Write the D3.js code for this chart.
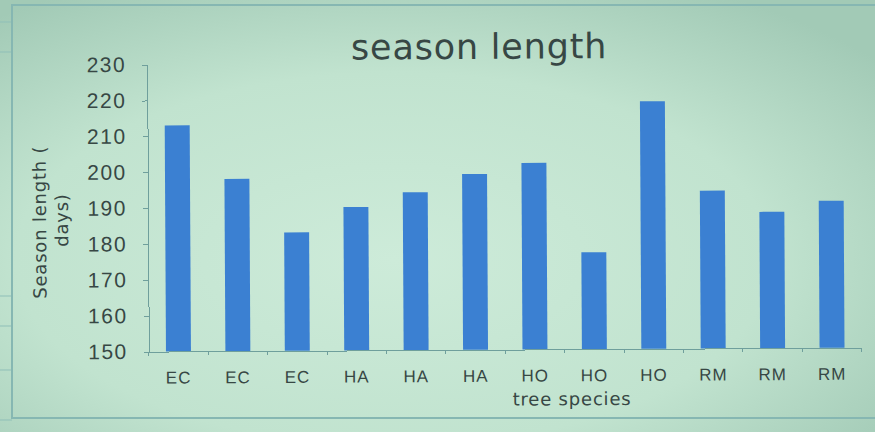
<!DOCTYPE html>
<meta charset="utf-8">
<style>
body {
  margin: 0;
  background: #a9d0bf;
  font-family: "DejaVu Sans", sans-serif;
}
.axis path,
.axis line {
  fill: none;
  stroke: #6f9f9c;
  shape-rendering: crispEdges;
}
.axis text {
  fill: #374744;
}
</style>
<body>
<script src="https://d3js.org/d3.v7.min.js"></script>
<script>

// tree species on the x axis (repeated names, so the band scale uses the index)
const species = ["EC", "EC", "EC", "HA", "HA", "HA", "HO", "HO", "HO", "RM", "RM", "RM"];
// season length in days
const seasonLength = [213, 198, 183, 190, 194, 199, 202, 177, 219, 194, 188, 191];
const yTicks = [150, 160, 170, 180, 190, 200, 210, 220, 230];

var W = 875, H = 432;
var margin = {top: 63, right: 14, bottom: 82, left: 148},
    width = W - margin.left - margin.right,
    height = H - margin.top - margin.bottom;

var svg = d3.select("body").append("svg")
    .attr("width", W)
    .attr("height", H);

// photo-like background: lit middle, darker corners
var defs = svg.append("defs");
var grad = defs.append("radialGradient")
    .attr("id", "glow")
    .attr("cx", "45%").attr("cy", "60%").attr("r", "72%");
grad.append("stop").attr("offset", "0%").attr("stop-color", "#cdebd9");
grad.append("stop").attr("offset", "60%").attr("stop-color", "#c1e3cf");
grad.append("stop").attr("offset", "100%").attr("stop-color", "#a2cab6");

svg.append("rect")
    .attr("width", W).attr("height", H)
    .attr("fill", "url(#glow)");

// faint spreadsheet gridlines in the left margin
svg.selectAll(".grid")
    .data([22, 52, 296, 326, 370, 420])
  .enter().append("line")
    .attr("x1", 0).attr("x2", 12)
    .attr("y1", d => d).attr("y2", d => d)
    .attr("stroke", "#8fbfb8")
    .attr("stroke-width", 1);

// chart frame
svg.append("rect")
    .attr("x", 12).attr("y", 5)
    .attr("width", W + 20).attr("height", 413)
    .attr("fill", "none")
    .attr("stroke", "#86b7b2")
    .attr("stroke-width", 2);

var chart = svg.append("g")
    .attr("transform", "rotate(-0.32," + W / 2 + "," + H / 2 + ")");

var g = chart.append("g")
    .attr("transform", "translate(" + margin.left + "," + margin.top + ")");

var x = d3.scaleBand()
    .domain(d3.range(species.length))
    .range([0, width])
    .paddingInner(0.58)
    .paddingOuter(0.29);

var y = d3.scaleLinear()
    .domain([150, 230])
    .range([height, 0]);

var xAxis = d3.axisBottom(x)
    .tickFormat(i => species[i])
    .tickSize(0)
    .tickPadding(20);

var yAxis = d3.axisLeft(y)
    .tickValues(yTicks)
    .tickSize(5)
    .tickPadding(16);

g.selectAll(".bar")
    .data(seasonLength)
  .enter().append("rect")
    .attr("class", "bar")
    .attr("x", (d, i) => x(i))
    .attr("width", x.bandwidth())
    .attr("y", d => y(d))
    .attr("height", d => height - y(d))
    .attr("fill", "#3b80d2");

var gx = g.append("g")
    .attr("class", "x axis")
    .attr("transform", "translate(0," + height + ")")
    .call(xAxis);
gx.selectAll("text")
    .style("font-size", "17px")
    .style("letter-spacing", "1px");

// small ticks between the categories
var step = x.step();
gx.selectAll(".sep")
    .data(d3.range(species.length + 1))
  .enter().append("line")
    .attr("class", "sep")
    .attr("x1", i => i * step).attr("x2", i => i * step)
    .attr("y1", 0).attr("y2", 4);

var gy = g.append("g")
    .attr("class", "y axis")
    .call(yAxis);
gy.selectAll("text")
    .style("font-size", "21px")
    .style("letter-spacing", "1.5px");

g.append("text")
    .attr("x", 423)
    .attr("y", height + 56)
    .attr("text-anchor", "middle")
    .style("font-size", "18px")
    .style("letter-spacing", "0.8px")
    .style("fill", "#374744")
    .text("tree species");

// y axis title on two lines
var ylab = g.append("text")
    .attr("transform", "rotate(-90)")
    .attr("text-anchor", "middle")
    .style("font-size", "18px")
    .style("letter-spacing", "0.8px")
    .style("fill", "#374744");
ylab.append("tspan")
    .attr("x", -(220 - margin.top))
    .attr("y", -102)
    .text("Season length (");
ylab.append("tspan")
    .attr("x", -(218 - margin.top))
    .attr("y", -80)
    .text("days)");

chart.append("text")
    .attr("x", 480)
    .attr("y", 59)
    .attr("text-anchor", "middle")
    .style("font-size", "35px")
    .style("letter-spacing", "0.8px")
    .style("fill", "#374744")
    .text("season length");

</script>
</body>
</html>
